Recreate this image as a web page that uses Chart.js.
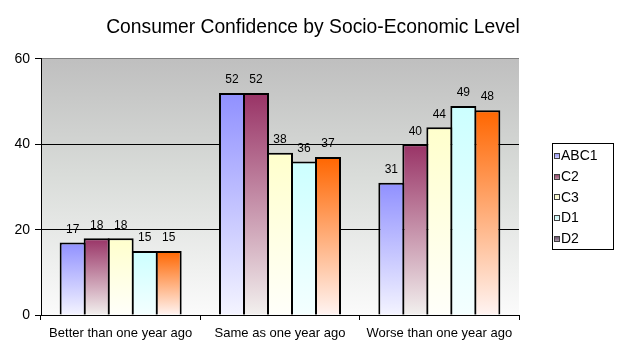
<!DOCTYPE html>
<html>
<head>
<meta charset="utf-8">
<script src="https://cdn.jsdelivr.net/npm/chart.js@4.4.1/dist/chart.umd.min.js"></script>
<style>
html,body{margin:0;padding:0;background:#fff;}
canvas{display:block;}
</style>
</head>
<body>
<canvas id="c" width="626" height="356"></canvas>
<script>
// ---- data ----
const categories = ['Better than one year ago', 'Same as one year ago', 'Worse than one year ago'];
const seriesNames = ['ABC1', 'C2', 'C3', 'D1', 'D2'];
const abc1 = [17, 52, 31];
const c2 = [18, 52, 40];
const c3 = [18, 38, 44];
const d1 = [15, 36, 49];
const d2 = [15, 37, 48];
const yTicks = [0, 20, 40, 60];
const titleText = 'Consumer Confidence by Socio-Economic Level';

// ---- styles ----
const FONT = '"Liberation Sans", Arial, sans-serif';
const topColors = ['#9090ff', '#993366', '#ffffcc', '#ccffff', '#ff6600'];
const bottomColors = ['#f4f4ff', '#f2f0ee', '#fffffa', '#f4ffff', '#fff4f2'];
const legendSwatch = [['#8c8cf0', '#d8d8ff'], ['#8a3a5e', '#c8a0b0'], ['#f4f4c0', '#ffffe8'], ['#c0f0f0', '#e8ffff'], ['#5e4460', '#b8a8b8']];
const seriesValues = [abc1, c2, c3, d1, d2];

function barGradient(i) {
  return function (ctx) {
    const chart = ctx.chart;
    if (!chart.chartArea || ctx.raw === undefined) return topColors[i];
    const y = chart.scales.y;
    const t = y.getPixelForValue(ctx.raw);
    const b = y.getPixelForValue(0);
    const g = chart.ctx.createLinearGradient(0, t, 0, b);
    g.addColorStop(0, topColors[i]);
    g.addColorStop(1, bottomColors[i]);
    return g;
  };
}

const datasets = seriesNames.map((name, i) => ({
  label: name,
  data: seriesValues[i],
  backgroundColor: barGradient(i),
  borderColor: '#000',
  borderWidth: 2,
  categoryPercentage: 0.7533,
  barPercentage: 1.0833
}));

const plotBg = {
  id: 'plotBg',
  beforeDraw(chart) {
    const { ctx, chartArea: a } = chart;
    const g = ctx.createLinearGradient(0, a.top, 0, a.bottom);
    g.addColorStop(0, '#bfbfbf');
    g.addColorStop(0.45, '#d9dcd9');
    g.addColorStop(1, '#fbfbfb');
    ctx.save();
    ctx.fillStyle = g;
    ctx.fillRect(a.left, a.top, a.right - a.left, a.bottom - a.top);
    ctx.restore();
  }
};

// centre the title over the whole canvas (not just the area left of the legend)
const titleCentre = {
  id: 'titleCentre',
  afterLayout(chart) {
    const t = chart.titleBlock;
    if (t) { t.left = 0; t.right = chart.width; t.width = chart.width; }
  }
};

const valueLabels = {
  id: 'valueLabels',
  afterDatasetsDraw(chart) {
    const ctx = chart.ctx;
    ctx.save();
    ctx.font = '12px ' + FONT;
    ctx.fillStyle = '#000';
    ctx.textAlign = 'center';
    ctx.textBaseline = 'middle';
    chart.data.datasets.forEach((ds, di) => {
      const meta = chart.getDatasetMeta(di);
      meta.data.forEach((el, j) => {
        ctx.fillText(String(ds.data[j]), el.x, el.y - 13);
      });
    });
    ctx.restore();
  }
};

const boxLegend = {
  id: 'boxLegend',
  afterDraw(chart) {
    const ctx = chart.ctx;
    ctx.save();
    ctx.strokeStyle = '#000';
    ctx.lineWidth = 1;
    ctx.strokeRect(552.5, 143.5, 61, 106);
    ctx.font = '14px ' + FONT;
    ctx.textAlign = 'left';
    ctx.textBaseline = 'middle';
    chart.data.datasets.forEach((ds, i) => {
      const cy = 156 + i * 20.7;
      const sy = Math.round(cy - 3);
      const g = ctx.createLinearGradient(0, sy, 0, sy + 6);
      g.addColorStop(0, legendSwatch[i][0]);
      g.addColorStop(1, legendSwatch[i][1]);
      ctx.fillStyle = g;
      ctx.fillRect(554, sy, 6, 6);
      ctx.strokeStyle = '#404040';
      ctx.strokeRect(554.5, sy + 0.5, 5, 5);
      ctx.fillStyle = '#000';
      ctx.fillText(ds.label, 561, cy + 0.5);
    });
    ctx.restore();
  }
};

new Chart(document.getElementById('c'), {
  type: 'bar',
  data: { labels: categories, datasets },
  options: {
    responsive: false,
    animation: false,
    devicePixelRatio: 1,
    layout: { padding: { left: 0, right: 107, top: 0, bottom: 0 } },
    plugins: {
      legend: { display: false },
      tooltip: { enabled: false },
      title: {
        display: true,
        text: titleText,
        color: '#000',
        font: { family: FONT, size: 19.3, weight: 'normal' },
        padding: { top: 16, bottom: 19.8 }
      }
    },
    scales: {
      x: {
        offset: true,
        grid: { offset: true, drawOnChartArea: false, color: '#000', tickLength: 5 },
        border: { color: '#000', width: 1 },
        ticks: { color: '#000', font: { family: FONT, size: 13 }, padding: 6, maxRotation: 0 },
        afterFit(s) { s.height = 41; }
      },
      y: {
        min: 0,
        max: 60,
        afterBuildTicks(s) { s.ticks = yTicks.map(v => ({ value: v })); },
        grid: {
          color: (c) => (c.tick && c.tick.value === 60 ? '#808080' : '#000'),
          tickColor: '#000',
          tickLength: 6
        },
        border: { color: '#000', width: 1 },
        ticks: { color: '#000', font: { family: FONT, size: 14 }, padding: 5 },
        afterFit(s) { s.width = 41; }
      }
    }
  },
  plugins: [plotBg, titleCentre, valueLabels, boxLegend]
});
</script>
</body>
</html>
